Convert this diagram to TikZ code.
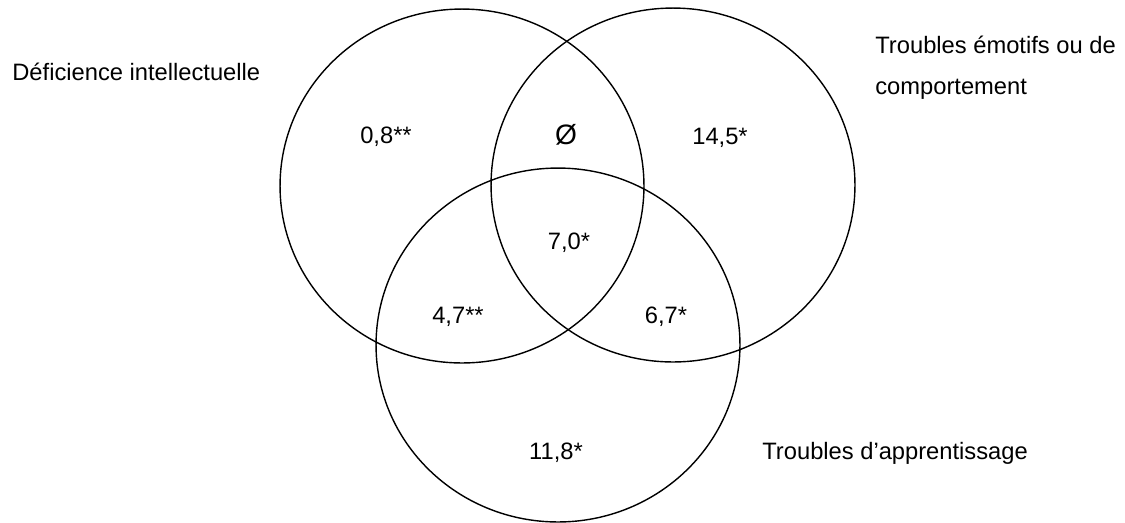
\documentclass[tikz,border=0pt]{standalone}
\usepackage{fontspec}
\setmainfont{Liberation Sans}
\usepackage{tikz}
\usetikzlibrary{shapes.geometric, positioning}

\begin{document}
\begin{tikzpicture}[
    x=0.02cm, y=-0.02cm,
    setcircle/.style={ellipse, draw, line width=0.8pt, minimum width=7.28cm, minimum height=7.08cm, inner sep=0pt},
    setlabel/.style={font=\fontsize{13.5}{23.3}\selectfont, align=left, inner sep=0pt},
    value/.style={font=\fontsize{13.5}{16}\selectfont, inner sep=0pt}
]
    \useasboundingbox (0,0) rectangle (1125,522);

    % Sets
    \node[setcircle] (di) at (462,186) {};
    \node[setcircle] (tec) at (673,185) {};
    \node[setcircle] (ta) at (558,345) {};

    % Set names
    \node[setlabel, anchor=west] (dilbl) at (12,72) {Déficience intellectuelle};
    \node[setlabel, anchor=west] (teclbl) at (875,68) {Troubles émotifs ou de\\comportement};
    \node[setlabel, anchor=west] (talbl) at (762,453) {Troubles d’apprentissage};

    % Values
    \node[value] (vdi) at (386,137) {0,8**};
    \node[value, font=\fontsize{16}{18}\selectfont] (vditec) at (566,135) {Ø};
    \node[value] (vtec) at (720,138) {14,5*};
    \node[value] (vall) at (569,243) {7,0*};
    \node[value] (vdita) at (458,317) {4,7**};
    \node[value] (vtecta) at (666,317) {6,7*};
    \node[value] (vta) at (556,453) {11,8*};
\end{tikzpicture}
\end{document}
